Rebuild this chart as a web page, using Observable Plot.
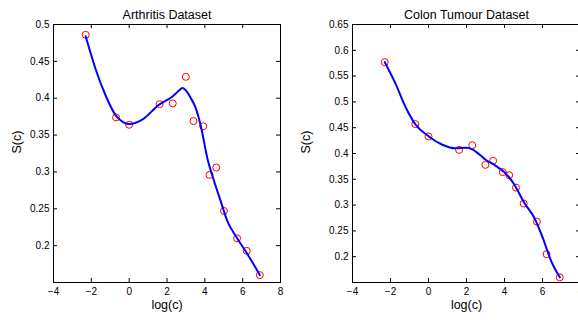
<!DOCTYPE html>
<html><head><meta charset="utf-8">
<script src="https://cdn.jsdelivr.net/npm/d3@7"></script>
<script src="https://cdn.jsdelivr.net/npm/@observablehq/plot@0.6"></script>
<style>
html,body{margin:0;padding:0;background:#fff;overflow:hidden}
#wrap{position:relative;width:578px;height:320px;overflow:hidden;background:#fff}
#wrap svg{position:absolute;top:0}
</style></head><body><div id="wrap"></div>
<script>
// x = log(c)
const logC = [-2.303, -0.693, 0, 1.609, 2.303, 2.996, 3.401, 3.912, 4.248, 4.605, 5.011, 5.704, 6.215, 6.908];
const arthritisS = [0.486, 0.374, 0.364, 0.392, 0.393, 0.429, 0.369, 0.362, 0.296, 0.306, 0.247, 0.210, 0.193, 0.160];
const colonS = [0.577, 0.457, 0.433, 0.407, 0.416, 0.378, 0.386, 0.364, 0.358, 0.334, 0.303, 0.268, 0.205, 0.160];

// fitted curves
const arthritisFitX = [-2.30, -1.78, -1.25, -0.72, -0.28, 0.0, 0.69, 1.57, 2.27, 2.62, 2.82, 3.05, 3.24, 3.50, 3.80, 4.12, 4.47, 4.83, 5.18, 5.71, 6.24, 6.91];
const arthritisFitY = [0.484, 0.440, 0.404, 0.377, 0.367, 0.365, 0.371, 0.391, 0.402, 0.410, 0.414, 0.409, 0.401, 0.388, 0.361, 0.320, 0.289, 0.261, 0.234, 0.210, 0.189, 0.160];
const colonFitX = [-2.30, -1.73, -1.21, -0.68, 0.02, 0.73, 1.43, 1.96, 2.31, 2.75, 3.01, 3.50, 3.98, 4.50, 5.03, 5.56, 6.00, 6.44, 6.91];
const colonFitY = [0.577, 0.535, 0.490, 0.456, 0.433, 0.417, 0.410, 0.411, 0.408, 0.396, 0.388, 0.377, 0.364, 0.341, 0.305, 0.276, 0.238, 0.193, 0.160];

const xTicks = [-4, -2, 0, 2, 4, 6, 8];
const yTicksArthritis = [0.2, 0.25, 0.3, 0.35, 0.4, 0.45, 0.5];
const yTicksColon = [0.2, 0.25, 0.3, 0.35, 0.4, 0.45, 0.5, 0.55, 0.6, 0.65];
const titles = ["Arthritis Dataset", "Colon Tumour Dataset"];
const xLabel = "log(c)";
const yLabel = "S(c)";

const H = 320, MT = 24, MB = 38;
const font = "'Liberation Sans', Arial, Helvetica, sans-serif";

function panel({title, ys, fitX, fitY, yDomain, yTicks, width, ml, mr, left}) {
  const IH = H - MT - MB, IW = width - ml - mr;
  const pts = logC.map((x, i) => ({x, y: ys[i]}));
  const fit = fitX.map((x, i) => ({x, y: fitY[i]}));
  const svg = Plot.plot({
    width, height: H, marginLeft: ml, marginRight: mr, marginTop: MT, marginBottom: MB,
    style: {fontFamily: font, fontSize: "10px", color: "black", background: "white"},
    x: {domain: [-4, 8]},
    y: {domain: yDomain},
    marks: [
      Plot.frame({stroke: "black"}),
      Plot.tickX(xTicks, {x: d => d, insetTop: IH - 4, stroke: "black"}),
      Plot.tickX(xTicks, {x: d => d, insetBottom: IH - 4, stroke: "black"}),
      Plot.tickY(yTicks, {y: d => d, insetRight: IW - 4, stroke: "black"}),
      Plot.tickY(yTicks, {y: d => d, insetLeft: IW - 4, stroke: "black"}),
      Plot.axisX(xTicks, {tickSize: 0, tickPadding: 5, label: null, fill: "black"}),
      Plot.axisY(yTicks, {tickSize: 0, tickPadding: 4, label: null, fill: "black",
        tickFormat: d => String(+d.toFixed(2))}),
      Plot.dot(pts, {x: "x", y: "y", r: 3.5, stroke: "#ff0000", strokeWidth: 1}),
      Plot.line(fit, {x: "x", y: "y", curve: "monotone-x", stroke: "#0000ff", strokeWidth: 2}),
      Plot.text([title], {frameAnchor: "top", dy: -14, fontSize: 12.5, fill: "black"}),
      Plot.text([xLabel], {frameAnchor: "bottom", dy: 26, fontSize: 12.5, fill: "black"}),
      Plot.text([yLabel], {frameAnchor: "left", dx: -(ml - 16), rotate: -90, fontSize: 12.5, fill: "black"})
    ]
  });
  svg.style.left = left + "px";
  document.getElementById("wrap").appendChild(svg);
}

panel({title: titles[0], ys: arthritisS, fitX: arthritisFitX, fitY: arthritisFitY,
  yDomain: [0.15, 0.5], yTicks: yTicksArthritis, width: 289, ml: 53, mr: 9, left: 0});
panel({title: titles[1], ys: colonS, fitX: colonFitX, fitY: colonFitY,
  yDomain: [0.15, 0.65], yTicks: yTicksColon, width: 300, ml: 63, mr: 9, left: 289});
</script>
</body></html>
